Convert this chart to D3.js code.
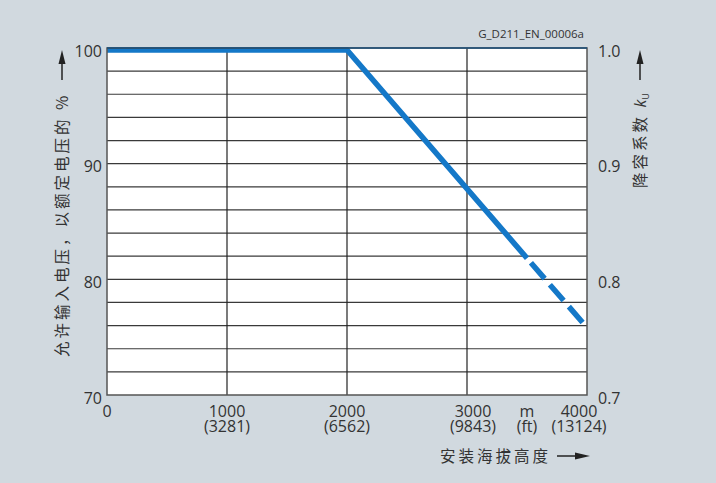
<!DOCTYPE html>
<html><head><meta charset="utf-8">
<script src="https://cdn.jsdelivr.net/npm/d3@7"></script>
<style>
html,body{margin:0;padding:0;background:#d1d9df;}
svg{display:block;}
text{font-family:"Open Sans","Noto Sans","Noto Sans CJK SC",sans-serif;fill:#333;}
.cjk{font-family:"Noto Sans CJK SC",sans-serif;}
</style></head>
<body>
<script>
// ---- data ----
const altitudes = [0, 2000, 3500, 4000];          // m
const voltagePct = [100, 100, 82, 76];             // % of rated voltage
const solidUntil = 3500;                           // beyond this line is dashed
const xTicks = [0, 1000, 2000, 3000, 4000];
const xTickFeet = ["", "(3281)", "(6562)", "(9843)", "(13124)"];
const yTicksLeft = [70, 80, 90, 100];
const yTicksRight = ["0.7", "0.8", "0.9", "1.0"];
const yGrid = d3.range(70, 101, 2);
const leftTitle = "允许输入电压，以额定电压的 %";
const rightTitle = "降容系数 ";
const bottomTitle = "安装海拔高度";
const chartId = "G_D211_EN_00006a";

const W = 716, H = 483;
const m = {l:107, r:129, t:48, b:88};
const pw = W - m.l - m.r, ph = H - m.t - m.b;

const svg = d3.select("body").append("svg").attr("width", W).attr("height", H);
svg.append("rect").attr("width", W).attr("height", H).attr("fill", "#d1d9df");

const x = d3.scaleLinear().domain([0, 4000]).range([m.l, m.l + pw]);
const y = d3.scaleLinear().domain([70, 100]).range([m.t + ph, m.t]);

// plot area
svg.append("rect").attr("x", m.l).attr("y", m.t).attr("width", pw).attr("height", ph).attr("fill", "#fff");

// grid
svg.append("g").selectAll("line").data(yGrid.slice(1, -1)).join("line")
  .attr("x1", m.l).attr("x2", m.l + pw).attr("y1", d => y(d)).attr("y2", d => y(d))
  .attr("stroke", "#3a3a3a").attr("stroke-width", 1.2);
svg.append("g").selectAll("line").data(xTicks.slice(1, -1)).join("line")
  .attr("x1", d => x(d)).attr("x2", d => x(d)).attr("y1", m.t).attr("y2", m.t + ph)
  .attr("stroke", "#222").attr("stroke-width", 1.2);

// data line
const pts = altitudes.map((a, i) => [a, voltagePct[i]]);
const line = d3.line().x(d => x(d[0])).y(d => y(d[1]));
const gL = svg.append("g").attr("transform", "translate(0,2)");
const solidPts = pts.filter(p => p[0] <= solidUntil);
const dashPts = pts.filter(p => p[0] >= solidUntil);
gL.append("path").attr("d", line(solidPts)).attr("fill", "none")
  .attr("stroke", "#1478c8").attr("stroke-width", 5.5).attr("stroke-linejoin", "miter");
gL.append("path").attr("d", line(dashPts)).attr("fill", "none")
  .attr("stroke", "#1478c8").attr("stroke-width", 5.5)
  .attr("stroke-dasharray", "21 8").attr("stroke-dashoffset", 23);

// frame
svg.append("rect").attr("x", m.l).attr("y", m.t).attr("width", pw).attr("height", ph)
  .attr("fill", "none").attr("stroke", "#555").attr("stroke-width", 1.5);
svg.append("line").attr("x1", m.l).attr("x2", m.l + pw).attr("y1", m.t).attr("y2", m.t)
  .attr("stroke", "#1a4f7a").attr("stroke-width", 1.5);

// left tick labels
svg.append("g").selectAll("text").data(yTicksLeft).join("text")
  .attr("x", m.l - 5).attr("y", d => y(d) + 3).attr("dy", "0.35em")
  .attr("text-anchor", "end").attr("font-size", 16).text(d => d);
// right tick labels
svg.append("g").selectAll("text").data(yTicksLeft).join("text")
  .attr("x", m.l + pw + 11).attr("y", d => y(d) + 3).attr("dy", "0.35em")
  .attr("text-anchor", "start").attr("font-size", 16).text((d, i) => yTicksRight[i]);

// bottom tick labels (two rows in one text element)
const xOff = {3000: 6, 4000: -8};
const bx = svg.append("g");
const tl = bx.selectAll("text.t").data(xTicks).join("text").attr("class", "t")
  .attr("text-anchor", "middle").attr("font-size", 16);
tl.append("tspan").attr("x", d => x(d) + (xOff[d] || 0)).attr("y", m.t + ph + 22).text(d => d);
tl.append("tspan").attr("x", d => x(d) + (xOff[d] || 0)).attr("y", m.t + ph + 37).text((d, i) => xTickFeet[i]);
const ut = bx.append("text").attr("text-anchor", "middle").attr("font-size", 16);
ut.append("tspan").attr("x", x(3500)).attr("y", m.t + ph + 22).text("m");
ut.append("tspan").attr("x", x(3500)).attr("y", m.t + ph + 37).text("(ft)");

// chart id
svg.append("text").attr("x", 584).attr("y", 38).attr("text-anchor", "end")
  .attr("font-size", 11.5).text(chartId);

// arrow helper (pointing up)
function arrowUp(cx, yTop, yBot) {
  svg.append("line").attr("x1", cx).attr("x2", cx).attr("y1", yTop + 10).attr("y2", yBot)
    .attr("stroke", "#222").attr("stroke-width", 1.5);
  svg.append("path").attr("d", `M${cx},${yTop} L${cx - 3.5},${yTop + 14} L${cx + 3.5},${yTop + 14} Z`).attr("fill", "#222");
}
arrowUp(62, 50, 80);
arrowUp(640, 50, 80);

// left title (rotated)
svg.append("text").attr("class", "cjk")
  .attr("transform", `translate(68,357) rotate(-90)`)
  .attr("font-size", 15.5).attr("letter-spacing", 3).text(leftTitle);

// right title
const rt = svg.append("text").attr("class", "cjk")
  .attr("transform", `translate(646,188) rotate(-90)`)
  .attr("font-size", 15.5).attr("letter-spacing", 3);
rt.append("tspan").text(rightTitle);
rt.append("tspan").attr("font-style", "italic").attr("font-family", "Open Sans, sans-serif").attr("font-size", 16).attr("letter-spacing", 0).text("k");
rt.append("tspan").attr("font-size", 9).attr("dy", 3).attr("letter-spacing", 0).attr("font-family", "Open Sans, sans-serif").text("U");

// bottom title
svg.append("text").attr("class", "cjk").attr("x", 440).attr("y", 462)
  .attr("font-size", 15.5).attr("letter-spacing", 3).text(bottomTitle);
svg.append("line").attr("x1", 557).attr("x2", 578).attr("y1", 456).attr("y2", 456)
  .attr("stroke", "#222").attr("stroke-width", 1.5);
svg.append("path").attr("d", "M590,456 L575,452.5 L575,459.5 Z").attr("fill", "#222");
</script>
</body></html>
